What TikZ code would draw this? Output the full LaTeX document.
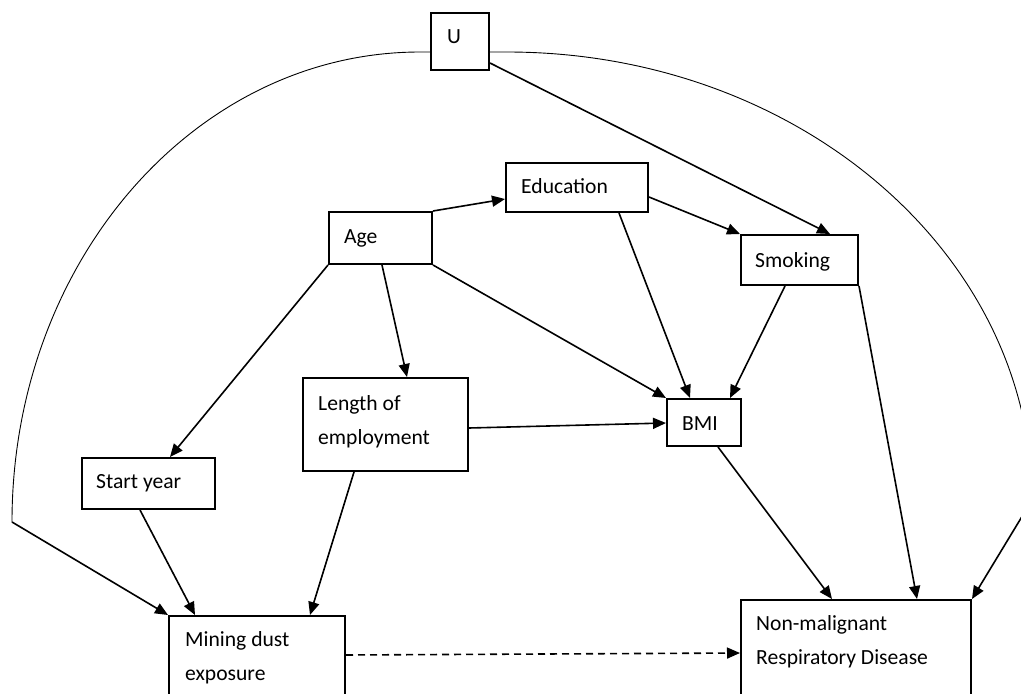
\documentclass[tikz,border=0pt]{standalone}
\usepackage{fontspec}
\setmainfont{Carlito}
\usetikzlibrary{arrows.meta,calc}
\begin{document}
\begin{tikzpicture}[x=1pt,y=-1pt,
  box/.style={draw,line width=2pt,rectangle,inner sep=0pt,anchor=north west},
  lbl/.style={anchor=base west,inner sep=0pt,font=\fontsize{21.6}{26}\selectfont},
  arr/.style={line width=1.6pt,-{Triangle[length=13pt,width=11pt]}},
  curv/.style={line width=0.9pt},
  dsh/.style={arr,dash pattern=on 7pt off 5pt}]
\useasboundingbox (0,0) rectangle (1021,694);
\clip (0,0) rectangle (1021,694);
% boxes
\node[box,minimum width=58pt,minimum height=57pt] (u) at (430,12) {};
\node[box,minimum width=142pt,minimum height=49pt] (edu) at (505,162) {};
\node[box,minimum width=103pt,minimum height=52pt] (age) at (328,211) {};
\node[box,minimum width=117pt,minimum height=50pt] (smk) at (740,234) {};
\node[box,minimum width=165pt,minimum height=93pt] (len) at (302,377) {};
\node[box,minimum width=74pt,minimum height=47pt] (bmi) at (666,398) {};
\node[box,minimum width=133pt,minimum height=51pt] (sy) at (81,457) {};
\node[box,minimum width=176pt,minimum height=110pt] (min) at (168,615) {};
\node[box,minimum width=230pt,minimum height=110pt] (nm) at (740,599) {};
% texts
\node[lbl] (ut) at (447,43) {U};
\node[lbl] (edut) at (521,193) {Education};
\node[lbl] (aget) at (344,243) {Age};
\node[lbl] (smkt) at (755,267) {Smoking};
\node[lbl] (lent1) at (318,410) {Length of};
\node[lbl] (lent2) at (318,444) {employment};
\node[lbl] (bmit) at (682,430) {BMI};
\node[lbl] (syt) at (96,488) {Start year};
\node[lbl] (mint1) at (185,646) {Mining dust};
\node[lbl] (mint2) at (185,680) {exposure};
\node[lbl] (nmt1) at (756,630) {Non-malignant};
\node[lbl] (nmt2) at (756,664) {Respiratory Disease};
% connectors
\draw[arr] (age.north east) -- ($(edu.north west)+(0,37)$);
\draw[arr] ($(edu.north east)+(0,35)$) -- (smk.north west);
\draw[arr] ($(u.north east)+(0,51)$) -- ($(smk.north west)+(90,0)$);
\draw[arr] ($(edu.south west)+(114,0)$) -- ($(bmi.north west)+(24,0)$);
\draw[arr] ($(smk.south west)+(45,0)$) -- ($(bmi.north west)+(64,0)$);
\draw[arr] (age.south east) -- (bmi.north west);
\draw[arr] ($(age.south west)+(54,0)$) -- ($(len.north west)+(105,0)$);
\draw[arr] (age.south west) -- ($(sy.north west)+(89,0)$);
\draw[arr] ($(len.north east)+(0,51)$) -- ($(bmi.north west)+(0,25)$);
\draw[arr] ($(sy.south west)+(59,0)$) -- ($(min.north west)+(27,0)$);
\draw[arr] ($(len.south west)+(52,0)$) -- ($(min.north west)+(142,0)$);
\draw[dsh] ($(min.north east)+(0,40)$) -- ($(nm.north west)+(0,54)$);
\draw[arr] ($(bmi.south west)+(52,0)$) -- ($(nm.north west)+(92,0)$);
\draw[arr] (smk.south east) -- ($(nm.north west)+(177,0)$);
% big curves from U
\draw[curv] ($(u.north west)+(0,40)$) -- ++(-10,0)
  arc[start angle=-90,end angle=-180,x radius=408,y radius=470] coordinate (lc);
\draw[arr] (lc) -- (min.north west);
\draw[curv] ($(u.north east)+(0,40)$) -- ++(17,0)
  arc[start angle=-90,end angle=0,x radius=525,y radius=448] coordinate (rc);
\draw[arr] (rc) -- (nm.north east);
\end{tikzpicture}
\end{document}
